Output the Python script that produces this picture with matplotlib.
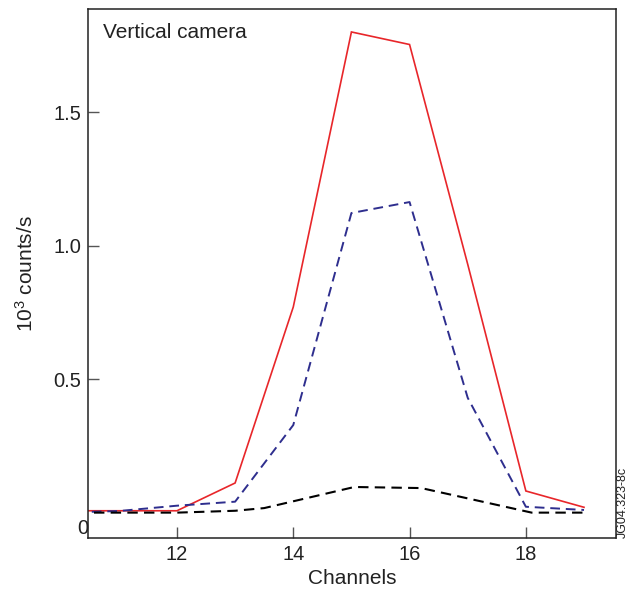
import matplotlib
matplotlib.use("Agg")
import matplotlib.pyplot as plt

plt.rcParams['font.family'] = ['Liberation Sans', 'DejaVu Sans']
plt.rcParams['mathtext.fontset'] = 'custom'
plt.rcParams['mathtext.rm'] = 'Liberation Sans'
plt.rcParams['mathtext.it'] = 'Liberation Sans'

# Data
channels = [10, 11, 12, 13, 14, 15, 16, 17, 18, 19]
red_vals = [0.007, 0.007, 0.007, 0.111, 0.770, 1.800, 1.753, 0.930, 0.081, 0.020]
blue_vals = [0.0, 0.006, 0.026, 0.041, 0.328, 1.122, 1.163, 0.430, 0.022, 0.010]
black_ch = [10, 12, 13, 13.5, 15.05, 16.2, 18.1, 19]
black_vals = [0.0, 0.0, 0.007, 0.017, 0.096, 0.092, 0.0, 0.0]
xticks = [12, 14, 16, 18]
yticks = [0.5, 1.0, 1.5]
ytick_labels = ['0.5', '1.0', '1.5']

fig = plt.figure(figsize=(6.36, 5.95), dpi=100)
ax = fig.add_axes([88/636, 1-538/595, (616-88)/636, (538-9)/595])

ax.plot(channels, red_vals, color='#e8262a', lw=1.2, solid_joinstyle='miter')
ax.plot(channels, blue_vals, color='#2e2e8e', lw=1.4, dashes=(5, 3))
ax.plot(black_ch, black_vals, color='black', lw=1.5, dashes=(5, 3))

ax.set_xlim(10.47, 19.55)
ax.set_ylim(-0.095, 1.886)
ax.set_xticks(xticks)
ax.set_xticklabels([str(t) for t in xticks])
ax.set_yticks(yticks)
ax.set_yticklabels(ytick_labels)
ax.tick_params(direction='in', length=8, width=1, color='#555555',
               labelsize=14.5, labelcolor='#222222', pad=5)
for s in ax.spines.values():
    s.set_color('#222222')
    s.set_linewidth(1.1)

ax.text(0, 0, '0', transform=ax.transAxes, ha='right', va='bottom',
        fontsize=14.5, color='#222222')
ax.text(0.028, 0.955, 'Vertical camera', transform=ax.transAxes,
        ha='left', va='center', fontsize=15, color='#222222')
ax.set_xlabel('Channels', fontsize=15, color='#222222', labelpad=4)
ax.set_ylabel(r'10$^{3}$ counts/s', fontsize=15, color='#222222', labelpad=12)
fig.text(623/636, 1-538/595, 'JG04.323-8c', rotation=90, ha='center',
         va='bottom', fontsize=9, color='#222222')

fig.savefig('out.png', dpi=100)
